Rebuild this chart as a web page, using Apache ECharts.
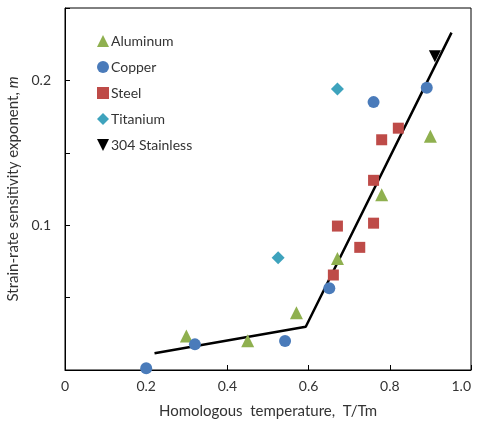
<!DOCTYPE html>
<html>
<head>
<meta charset="utf-8">
<script src="https://cdn.jsdelivr.net/npm/echarts@6/dist/echarts.min.js"></script>
<style>
    html, body { margin: 0; padding: 0; background: #fff; }
    #chart { width: 478px; height: 425px; }
</style>
</head>
<body>
<div id="chart"></div>
<script>
// 数据 [T/Tm, m]
var aluminum = [[0.299, 0.0235], [0.450, 0.0202], [0.570, 0.0395], [0.671, 0.077], [0.780, 0.121], [0.900, 0.1615]];
var copper = [[0.200, 0.0012], [0.320, 0.0177], [0.542, 0.0200], [0.651, 0.0564], [0.760, 0.185], [0.891, 0.195]];
var steel = [[0.661, 0.0656], [0.671, 0.0994], [0.726, 0.0847], [0.760, 0.1014], [0.760, 0.131], [0.780, 0.159], [0.821, 0.167]];
var titanium = [[0.671, 0.194], [0.525, 0.0775]];
var stainless = [[0.911, 0.2167]];
// 拟合折线
var fitLine = [[0.2205, 0.0115], [0.593, 0.0299], [0.952, 0.233]];

var xTickLabels = ['0', '0.2', '0.4', '0.6', '0.8', '1.0'];
var yTickLabels = { '0.1': '0.1', '0.2': '0.2' };

var font = 'Lato';
var chart = echarts.init(document.getElementById('chart'));

var option = {
    animation: false,
    textStyle: { fontFamily: font },
    grid: {
        left: 65, right: 7, top: 8, bottom: 55,
        outerBoundsMode: 'none',
        show: true, borderColor: '#000', borderWidth: 1
    },
    legend: {
        orient: 'vertical',
        left: 92,
        top: 29,
        itemWidth: 12,
        itemHeight: 12,
        itemGap: 12,
        textStyle: { color: '#333', fontSize: 14, fontFamily: font, padding: [0, 0, 0, -3] },
        data: ['Aluminum', 'Copper', 'Steel', 'Titanium', '304 Stainless']
    },
    xAxis: {
        type: 'value',
        min: 0,
        max: 1,
        interval: 0.2,
        name: 'Homologous  temperature,  T/Tm',
        nameLocation: 'middle',
        nameGap: 34,
        nameTextStyle: { color: '#333', fontSize: 15, fontFamily: font },
        axisLine: { show: true, lineStyle: { color: '#000', width: 1 } },
        axisTick: { show: true, inside: true, length: 5, lineStyle: { color: '#000' } },
        axisLabel: {
            color: '#333',
            fontSize: 14,
            margin: 9,
            alignMaxLabel: 'right',
            formatter: function (v) {
                return xTickLabels[Math.round(v / 0.2)];
            }
        },
        splitLine: { show: false }
    },
    yAxis: {
        type: 'value',
        min: 0,
        max: 0.25,
        interval: 0.05,
        name: '{a|Strain-rate sensitivity exponent, }{b|m}',
        nameLocation: 'middle',
        nameGap: 37,
        nameTextStyle: {
            rich: {
                a: { color: '#333', fontSize: 15, fontFamily: font },
                b: { color: '#333', fontSize: 15, fontFamily: font, fontStyle: 'italic' }
            }
        },
        axisLine: { show: true, lineStyle: { color: '#000', width: 1 } },
        axisTick: { show: true, inside: true, length: 5, lineStyle: { color: '#000' } },
        axisLabel: {
            color: '#333',
            fontSize: 14,
            margin: 14,
            formatter: function (v) {
                var k = v.toFixed(1);
                return Math.abs(v - Number(k)) < 1e-6 && yTickLabels[k] ? yTickLabels[k] : '';
            }
        },
        splitLine: { show: false }
    },
    series: [
        {
            name: 'fit',
            type: 'line',
            data: fitLine,
            symbol: 'none',
            lineStyle: { color: '#000', width: 2.5 },
            z: 1
        },
        {
            name: 'Aluminum',
            type: 'scatter',
            symbol: 'triangle',
            symbolSize: 13,
            itemStyle: { color: '#8FB04F', opacity: 1 },
            data: aluminum,
            z: 3
        },
        {
            name: 'Copper',
            type: 'scatter',
            symbol: 'circle',
            symbolSize: 12,
            itemStyle: { color: '#4A7BBA', opacity: 1 },
            data: copper,
            z: 3
        },
        {
            name: 'Steel',
            type: 'scatter',
            symbol: 'rect',
            symbolSize: 11,
            itemStyle: { color: '#BE4B48', opacity: 1 },
            data: steel,
            z: 3
        },
        {
            name: 'Titanium',
            type: 'scatter',
            symbol: 'diamond',
            symbolSize: 13,
            itemStyle: { color: '#3EA3BD', opacity: 1 },
            data: titanium,
            z: 3
        },
        {
            name: '304 Stainless',
            type: 'scatter',
            symbol: 'path://M0,0 L10,0 L5,10 Z',
            symbolSize: 12,
            itemStyle: { color: '#000', opacity: 1 },
            data: stainless,
            z: 3
        }
    ]
};

chart.setOption(option);
</script>
</body>
</html>
